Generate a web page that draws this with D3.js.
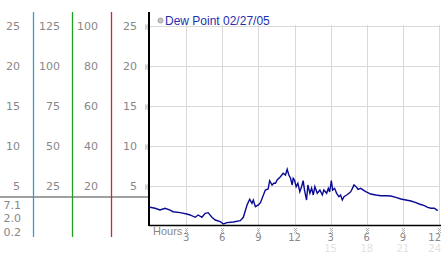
<!DOCTYPE html>
<html>
<head>
<meta charset="utf-8">
<script src="https://cdn.jsdelivr.net/npm/d3@7"></script>
<style>
  body { margin: 0; background: #fff; }
  svg { display: block; }
  text { font-family: "DejaVu Sans", Verdana, sans-serif; }
</style>
</head>
<body>
<div id="chart"></div>
<script>
// readings (hour of day, dew point)
var hours = [0.00,0.42,0.83,1.25,1.67,1.92,2.50,3.06,3.33,3.75,4.00,4.31,4.58,4.83,5.14,5.42,5.83,6.11,6.39,6.92,
  7.50,7.75,8.06,8.28,8.47,8.58,8.75,9.00,9.17,9.58,9.81,9.94,10.14,10.28,10.42,10.56,10.83,11.06,11.25,11.39,
  11.53,11.67,11.81,11.89,12.00,12.14,12.28,12.44,12.58,12.72,12.83,13.00,13.11,13.28,13.42,13.56,13.69,13.89,14.11,14.31,
  14.44,14.67,14.81,14.92,15.06,15.17,15.33,15.50,15.69,15.83,15.97,16.11,16.33,16.53,16.67,16.81,16.94,17.11,17.28,17.50,
  17.78,17.92,18.33,18.75,19.17,19.58,20.00,20.42,20.83,21.25,21.67,22.08,22.36,22.78,23.06,23.33,23.61,23.89];
var dewPoint = [2.40,2.28,2.06,2.28,2.06,1.85,1.73,1.56,1.44,1.15,1.44,1.15,1.65,1.73,1.15,0.81,0.60,0.31,0.48,0.56,
  0.73,1.15,2.69,3.40,2.90,3.31,2.48,2.69,2.98,4.56,4.69,5.73,5.19,5.40,5.40,5.81,6.23,6.65,6.44,7.15,
  6.44,6.03,5.19,6.03,5.81,4.98,5.40,4.35,4.94,5.73,4.56,3.31,5.19,4.15,4.81,3.94,4.98,4.15,4.56,3.94,
  4.56,4.15,4.77,4.31,5.73,4.56,4.77,4.15,3.73,3.94,3.31,3.73,3.94,4.15,4.35,4.77,5.19,4.98,4.65,4.77,
  4.48,4.35,4.06,3.94,3.85,3.85,3.81,3.65,3.44,3.31,3.19,2.98,2.81,2.60,2.40,2.28,2.28,1.98];

var yTicks = [25, 20, 15, 10, 5];
var scaleB = [125, 100, 75, 50, 25];
var scaleC = [100, 80, 60, 40, 20];
var lowLabels = ["7.1", "2.0", "0.2"];
var hourTicks = [3, 6, 9, 12, 15, 18, 21, 24];
var hourLabels = ["3", "6", "9", "12", "3", "6", "9", "12"];
var hourLabels2 = ["15", "18", "21", "24"];
var title = "Dew Point 02/27/05";

var width = 442, height = 253;
var svg = d3.select("#chart").append("svg")
  .attr("width", width).attr("height", height);

var x = d3.scaleLinear().domain([0, 24]).range([150, 439]);
var y = d3.scaleLinear().domain([0, 25]).range([226.5, 26.5]);
var yB = d3.scaleLinear().domain([0, 125]).range([226.5, 26.5]);
var yC = d3.scaleLinear().domain([0, 100]).range([226.5, 26.5]);
var yLow = d3.scalePoint().domain(lowLabels).range([205, 232]);

// tiny dotted tick marker
function marker(g, cx, cy) {
  var dots = [[-1,-2],[1,-2],[0,-1],[-1,0],[1,0],[0,1],[-1,2],[1,2]];
  g.append("g").selectAll("rect").data(dots).enter().append("rect")
    .attr("x", (d) => cx + d[0]).attr("y", (d) => cy + d[1])
    .attr("width", 1).attr("height", 1)
    .attr("fill", "#b0b0b0");
}

// label x for hour ticks, last one kept inside the page
var hx = (d) => d === 24 ? 441 : x(d);
var hAnchor = (d) => d === 24 ? "end" : "middle";

// gridlines
svg.append("g").selectAll("line.h").data(yTicks).enter().append("line")
  .attr("x1", 150).attr("x2", 440)
  .attr("y1", (d) => y(d)).attr("y2", (d) => y(d))
  .attr("stroke", "#d9d9d9").attr("stroke-width", 1);
svg.append("g").selectAll("line.v").data(hourTicks).enter().append("line")
  .attr("x1", (d) => Math.round(x(d)) + 0.5).attr("x2", (d) => Math.round(x(d)) + 0.5)
  .attr("y1", 25).attr("y2", 225)
  .attr("stroke", "#d9d9d9").attr("stroke-width", 1);

// left scale columns
function column(vals, scale, xr) {
  svg.append("g").selectAll("text").data(vals).enter().append("text")
    .attr("x", xr).attr("y", (d) => scale(d))
    .attr("dy", "0.35em").attr("text-anchor", "end")
    .style("font-size", "11px").style("fill", "#888")
    .text((d) => d);
}
column(yTicks, y, 20);
column(scaleB, yB, 60);
column(scaleC, yC, 98);
column(yTicks, y, 137);
svg.append("g").selectAll("text").data(lowLabels).enter().append("text")
  .attr("x", 21).attr("y", (d) => yLow(d)).attr("dy", "0.35em")
  .attr("text-anchor", "end")
  .style("font-size", "11px").style("fill", "#888")
  .text((d) => d);

yTicks.forEach((d) => marker(svg, 146, y(d)));

// gray divider
svg.append("line").attr("x1", 0).attr("x2", 149)
  .attr("y1", 197).attr("y2", 197)
  .attr("stroke", "#a0a0a0").attr("stroke-width", 2);

// colored scale lines
var bars = [{x: 33.5, c: "#2ea0d0"}, {x: 72.5, c: "#22a022"}, {x: 111.5, c: "#cc2a2a"}];
svg.append("g").selectAll("line").data(bars).enter().append("line")
  .attr("x1", (d) => d.x).attr("x2", (d) => d.x)
  .attr("y1", 12).attr("y2", 237)
  .attr("stroke", (d) => d.c).attr("stroke-width", 1.3);

// axes
svg.append("line").attr("x1", 149).attr("x2", 149).attr("y1", 12).attr("y2", 226)
  .attr("stroke", "#000").attr("stroke-width", 2);
svg.append("line").attr("x1", 149).attr("x2", 441).attr("y1", 225.5).attr("y2", 225.5)
  .attr("stroke", "#000").attr("stroke-width", 1.5);

// x labels
svg.append("text").attr("x", 153).attr("y", 231).attr("dy", "0.35em")
  .style("font-size", "11px").style("fill", "#888")
  .style("font-family", "'Liberation Sans', Arial, sans-serif")
  .text("Hours");
hourTicks.forEach((d) => marker(svg, Math.round(x(d)), 230));
svg.append("g").selectAll("text").data(hourTicks).enter().append("text")
  .attr("x", hx).attr("y", 237.5).attr("dy", "0.35em")
  .attr("text-anchor", hAnchor)
  .style("font-size", "10px").style("fill", "#888")
  .text((d, i) => hourLabels[i]);
svg.append("g").selectAll("text").data(hourLabels2).enter().append("text")
  .attr("x", (d) => hx(+d)).attr("y", 248).attr("dy", "0.35em")
  .attr("text-anchor", (d) => hAnchor(+d))
  .style("font-size", "10px").style("fill", "#e2e2e2")
  .text((d) => d);

// title
svg.append("circle").attr("cx", 160.5).attr("cy", 20.5).attr("r", 2.5)
  .attr("fill", "#c8c8c8").attr("stroke", "#909090").attr("stroke-width", 0.8);
svg.append("text").attr("x", 165).attr("y", 20.5).attr("dy", "0.35em")
  .style("font-size", "12px").style("fill", "#1f2fb0")
  .style("font-family", "'Liberation Sans', Arial, sans-serif")
  .text(title);

// data line
var line = d3.line()
  .x((d, i) => x(hours[i]))
  .y((d) => y(d));
svg.append("path").datum(dewPoint)
  .attr("d", line)
  .attr("fill", "none")
  .attr("stroke", "#0a0a96")
  .attr("stroke-width", 1.4);
</script>
</body>
</html>
